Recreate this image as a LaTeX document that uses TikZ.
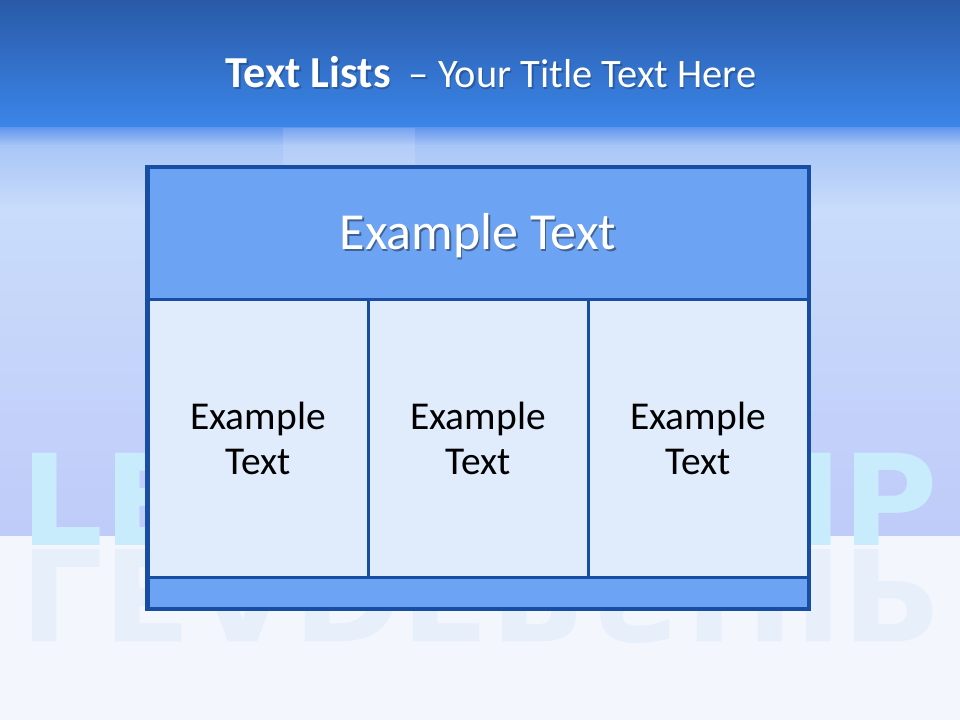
\documentclass[tikz,border=0pt]{standalone}
\usepackage{fontspec}
\setmainfont{Carlito}
\newfontfamily\wmfont{DejaVu Sans}
\definecolor{topA}{HTML}{2A5AA8}
\definecolor{topB}{HTML}{3B86EA}
\definecolor{skyA}{HTML}{6498EE}
\definecolor{skyB}{HTML}{A9C6F7}
\definecolor{skyC}{HTML}{C9DCFB}
\definecolor{skyD}{HTML}{BFCBF9}
\definecolor{floorC}{HTML}{F3F7FD}
\definecolor{wmUp}{HTML}{C8ECFC}
\definecolor{wmDown}{HTML}{E6EFFA}
\definecolor{edge}{HTML}{174DA2}
\definecolor{hdrfill}{HTML}{6CA3F2}
\definecolor{cellfill}{HTML}{E0ECFC}
\tikzset{
  cell/.style={draw=edge, line width=2.25pt, inner sep=0pt},
  coltext/.style={text=black, align=center, font=\fontsize{29.6}{33.75}\selectfont},
  hdrtext/.style={anchor=base, inner sep=0pt, font=\fontsize{39}{46}\selectfont},
  wmtext/.style={anchor=base west, inner sep=0pt, font=\wmfont\bfseries\fontsize{95}{100}\selectfont},
  titletext/.style={anchor=base, inner sep=0pt},
}
\newcommand{\mytitle}{{\fontsize{33.2}{40}\selectfont\textbf{Text Lists}}{\fontsize{30.3}{36}\selectfont\ \ – Your Title Text Here}}
\begin{document}
\begin{tikzpicture}[x=0.75pt,y=-0.75pt]
\useasboundingbox (0,0) rectangle (960,720);
% background
\shade[top color=topA, bottom color=topB] (0,0) rectangle (960,128);
\shade[top color=skyA, bottom color=skyB] (0,128) rectangle (960,146);
\shade[top color=skyB, bottom color=skyC] (0,146) rectangle (960,210);
\shade[top color=skyC, bottom color=skyD] (0,210) rectangle (960,536);
\fill[floorC] (0,536) rectangle (960,720);
\fill[white, opacity=0.13] (283,128) rectangle (415,170);
% watermark
\node[wmtext, text=wmUp] (wm) at (20,545) {\scalebox{1.03}[1]{LEADERSHIP}};
\node[wmtext, text=wmDown] (wmr) at (20,549) {\scalebox{1.03}[-1]{LEADERSHIP}};
% title
\node[titletext, text=black, opacity=0.22] at (492.5,89.5) {\mytitle};
\node[titletext, text=white] (title) at (491,88) {\mytitle};
% box
\node[cell, fill=hdrfill, minimum width=495pt, minimum height=99pt] (header) at (478,234) {};
\node[cell, fill=cellfill, minimum width=165pt, minimum height=207.75pt] (col1) at (258,438.5) {};
\node[cell, fill=cellfill, minimum width=165pt, minimum height=207.75pt] (col2) at (478,438.5) {};
\node[cell, fill=cellfill, minimum width=165pt, minimum height=207.75pt] (col3) at (698,438.5) {};
\node[cell, fill=hdrfill, minimum width=495pt, minimum height=23.25pt] (footer) at (478,592.5) {};
\draw[edge, line width=2.25pt] (header.north west) rectangle (footer.south east);
% texts
\node[hdrtext, text=black, opacity=0.4] at ([shift={(1.5,2)}]header.center |- 0,250) {Example Text};
\node[hdrtext, text=white] (htext) at (header.center |- 0,250) {Example Text};
\node[coltext] (t1) at (col1.center) {Example\\Text};
\node[coltext] (t2) at (col2.center) {Example\\Text};
\node[coltext] (t3) at (col3.center) {Example\\Text};
\end{tikzpicture}
\end{document}
